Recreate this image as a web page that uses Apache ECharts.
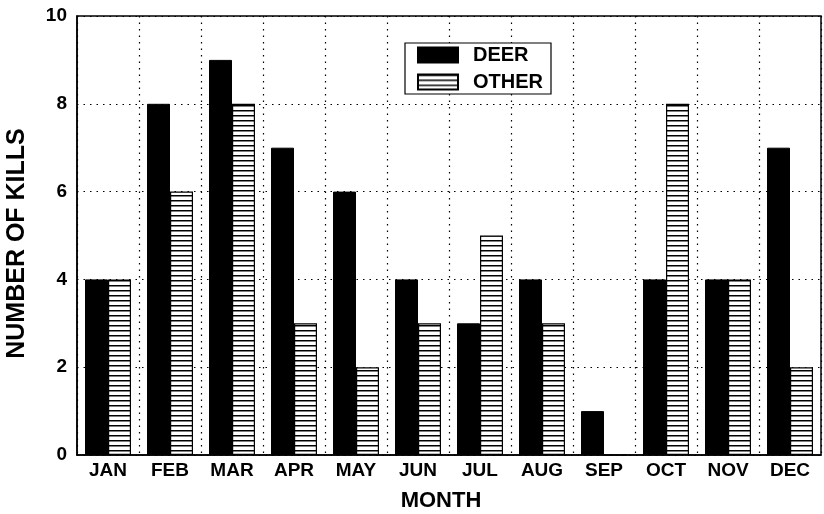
<!DOCTYPE html>
<html>
<head>
<meta charset="utf-8">
<script src="https://cdn.jsdelivr.net/npm/echarts@6/dist/echarts.min.js"></script>
<style>html,body{margin:0;padding:0;background:#fff}#c{width:824px;height:514px}</style>
</head>
<body>
<div id="c"></div>
<script>
const months = ['JAN','FEB','MAR','APR','MAY','JUN','JUL','AUG','SEP','OCT','NOV','DEC'];
const deer = [4, 8, 9, 7, 6, 4, 3, 4, 1, 4, 4, 7];
const other = [4, 6, 8, 3, 2, 3, 5, 3, 0, 8, 4, 2];
const yTicks = [0, 2, 4, 6, 8, 10];

const hatch = document.createElement('canvas');
hatch.width = 8; hatch.height = 5;
const hc = hatch.getContext('2d');
hc.fillStyle = '#fff'; hc.fillRect(0, 0, 8, 5);
hc.fillStyle = '#000'; hc.fillRect(0, 0, 8, 1.5);

const font = 'Liberation Sans, Arial, sans-serif';
const chart = echarts.init(document.getElementById('c'));
chart.setOption({
  animation: false,
  backgroundColor: '#fff',
  grid: { left: 77, right: 3, top: 16, bottom: 59, show: true, borderColor: '#000', borderWidth: 1.5, backgroundColor: 'transparent', containLabel: false, outerBoundsMode: 'none' },
  legend: {
    orient: 'vertical', left: 405, top: 43,
    icon: 'rect',
    itemWidth: 40, itemHeight: 15, itemGap: 7,
    borderColor: '#000', borderWidth: 1.2, padding: [2, 8, 2, 12],
    backgroundColor: '#fff',
    textStyle: { fontFamily: font, fontWeight: 'bold', fontSize: 20, lineHeight: 20, color: '#000', padding: [0, 0, 0, 10] },
    data: ['DEER', 'OTHER']
  },
  xAxis: {
    type: 'category', data: months,
    name: 'MONTH', nameLocation: 'middle', nameGap: 35,
    nameTextStyle: { fontFamily: font, fontWeight: 'bold', fontSize: 22, color: '#000', padding: [0, 16, 0, 0] },
    axisLine: { show: true, lineStyle: { color: '#000', width: 1.5 } },
    axisTick: { show: false },
    axisLabel: { fontFamily: font, fontWeight: 'bold', fontSize: 19, color: '#000', margin: 6 },
    splitLine: { show: true, lineStyle: { color: '#000', width: 1.2, type: [1.5, 5] } }
  },
  yAxis: {
    type: 'value', min: 0, max: 10, interval: 2,
    name: 'NUMBER OF KILLS', nameLocation: 'middle', nameGap: 47,
    nameTextStyle: { fontFamily: font, fontWeight: 'bold', fontSize: 25, color: '#000', padding: [0, 16, 0, 0] },
    axisLine: { show: true, lineStyle: { color: '#000', width: 1.5 } },
    axisTick: { show: false },
    axisLabel: { fontFamily: font, fontWeight: 'bold', fontSize: 19, color: '#000', margin: 10,
      formatter: v => yTicks.includes(v) ? String(v) : '' },
    splitLine: { show: true, lineStyle: { color: '#000', width: 1.2, type: [1.5, 5] } }
  },
  series: [
    { name: 'DEER', type: 'bar', data: deer, barWidth: 23, barGap: '0%',
      itemStyle: { color: '#000', borderColor: '#000', borderWidth: 1 } },
    { name: 'OTHER', type: 'bar', data: other, barWidth: 23, barGap: '0%',
      itemStyle: { color: { image: hatch, repeat: 'repeat' }, borderColor: '#000', borderWidth: 1.2 } }
  ]
});
</script>
</body>
</html>
